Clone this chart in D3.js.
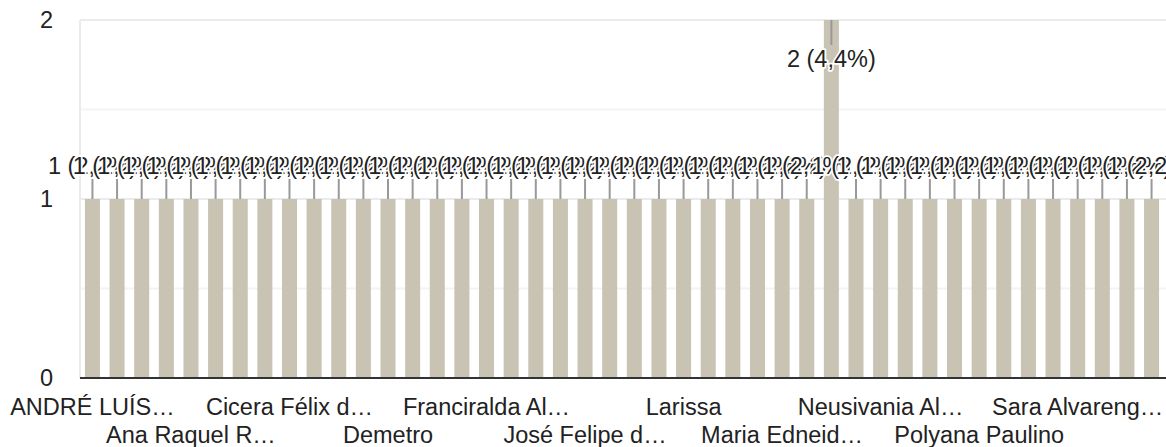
<!DOCTYPE html>
<html>
<head>
<meta charset="utf-8">
<script src="https://cdn.jsdelivr.net/npm/d3@7"></script>
<style>
  html, body { margin: 0; padding: 0; background: #fff; }
  svg { display: block; font-family: "Liberation Sans", Arial, sans-serif; }
</style>
</head>
<body>
<div id="chart"></div>
<script>
// 44 respostas; only every 4th name is printed on the axis, the rest are unknown
const names = [
    'ANDRÉ LUÍS…', '', '', '', 'Ana Raquel R…', '', '', '', 'Cicera Félix d…', '', '', '',
    'Demetro', '', '', '', 'Franciralda Al…', '', '', '', 'José Felipe d…', '', '', '',
    'Larissa', '', '', '', 'Maria Edneid…', '', '', '', 'Neusivania Al…', '', '', '',
    'Polyana Paulino', '', '', '', 'Sara Alvareng…', '', '', ''
];
const counts = [
    1, 1, 1, 1, 1, 1, 1, 1, 1, 1, 1, 1,
    1, 1, 1, 1, 1, 1, 1, 1, 1, 1, 1, 1,
    1, 1, 1, 1, 1, 1, 2, 1, 1, 1, 1, 1,
    1, 1, 1, 1, 1, 1, 1, 1
];
const yTicks = [0, 1, 2];
const yGrid = [0.5, 1, 1.5, 2];

const width = 1166, height = 447;
const plotLeft = 80, plotTop = 20, plotBottom = 378;
const fontSize = 23.5;
const total = d3.sum(counts);

const svg = d3.select('#chart').append('svg')
    .attr('width', width)
    .attr('height', height);

const idx = d3.range(counts.length);

const x = d3.scaleBand()
    .domain(idx)
    .range([plotLeft, 1164])
    .paddingInner(0.39)
    .paddingOuter(0.2);

const y = d3.scaleLinear()
    .domain([0, 2])
    .range([plotBottom, plotTop]);

// gridlines
svg.append('g')
    .selectAll('line')
    .data(yGrid)
    .join('line')
    .attr('x1', plotLeft)
    .attr('x2', width)
    .attr('y1', d => y(d))
    .attr('y2', d => y(d))
    .attr('stroke', d => Number.isInteger(d) ? '#ebebeb' : '#f4f4f4')
    .attr('stroke-width', 2);

// left axis line
svg.append('line')
    .attr('x1', plotLeft).attr('x2', plotLeft)
    .attr('y1', plotTop).attr('y2', plotBottom)
    .attr('stroke', '#ebebeb')
    .attr('stroke-width', 2);

// y tick labels
const yAxis = d3.axisLeft(y).tickValues(yTicks).tickSize(0).tickPadding(27).tickFormat(d3.format('d'));
const gy = svg.append('g').attr('transform', `translate(${plotLeft},0)`).call(yAxis);
gy.select('.domain').remove();
gy.selectAll('text')
    .attr('font-size', fontSize)
    .attr('fill', '#222')
    .style('font-family', '"Liberation Sans", Arial, sans-serif');

// bars
svg.append('g')
    .selectAll('rect')
    .data(idx)
    .join('rect')
    .attr('x', i => x(i))
    .attr('y', i => y(counts[i]))
    .attr('width', x.bandwidth())
    .attr('height', i => plotBottom - y(counts[i]))
    .attr('fill', '#c9c3b3');

// baseline
svg.append('line')
    .attr('x1', plotLeft).attr('x2', width)
    .attr('y1', plotBottom).attr('y2', plotBottom)
    .attr('stroke', '#333')
    .attr('stroke-width', 2);

// annotations: stem + text with white halo, drawn in order so later ones cover earlier ones
const fmtPct = v => d3.format('.1f')(v * 100 / total).replace('.', ',') + '%';
const ann = svg.append('g');
idx.forEach(i => {
    const cx = x(i) + x.bandwidth() / 2;
    const yt = y(counts[i]);
    // bar touches the top: annotation goes inside the bar
    const inside = yt <= plotTop + 1;
    const y2 = inside ? yt + 25 : yt - 20;
    const ty = inside ? yt + 47 : yt - 25;
    ann.append('line')
        .attr('x1', cx).attr('x2', cx)
        .attr('y1', yt).attr('y2', y2)
        .attr('stroke', '#999')
        .attr('stroke-width', 2);
    ann.append('text')
        .attr('x', cx)
        .attr('y', ty)
        .attr('text-anchor', 'middle')
        .attr('font-size', fontSize)
        .attr('fill', '#222')
        .attr('stroke', '#fff')
        .attr('stroke-width', 3.5)
        .attr('paint-order', 'stroke')
        .attr('stroke-linejoin', 'round')
        .text(`${counts[i]} (${fmtPct(counts[i])})`);
});

// x labels: every 4th category, alternating rows
const xAxis = d3.axisBottom(x)
    .tickValues(idx.filter(i => i % 4 === 0))
    .tickSize(0)
    .tickFormat(i => names[i]);
const gx = svg.append('g').attr('transform', `translate(0,${plotBottom})`).call(xAxis);
gx.select('.domain').remove();
gx.selectAll('text')
    .attr('font-size', fontSize)
    .attr('fill', '#222')
    .style('font-family', '"Liberation Sans", Arial, sans-serif')
    .attr('dy', null)
    .attr('y', i => (i / 4) % 2 === 0 ? 37 : 65);
</script>
</body>
</html>
